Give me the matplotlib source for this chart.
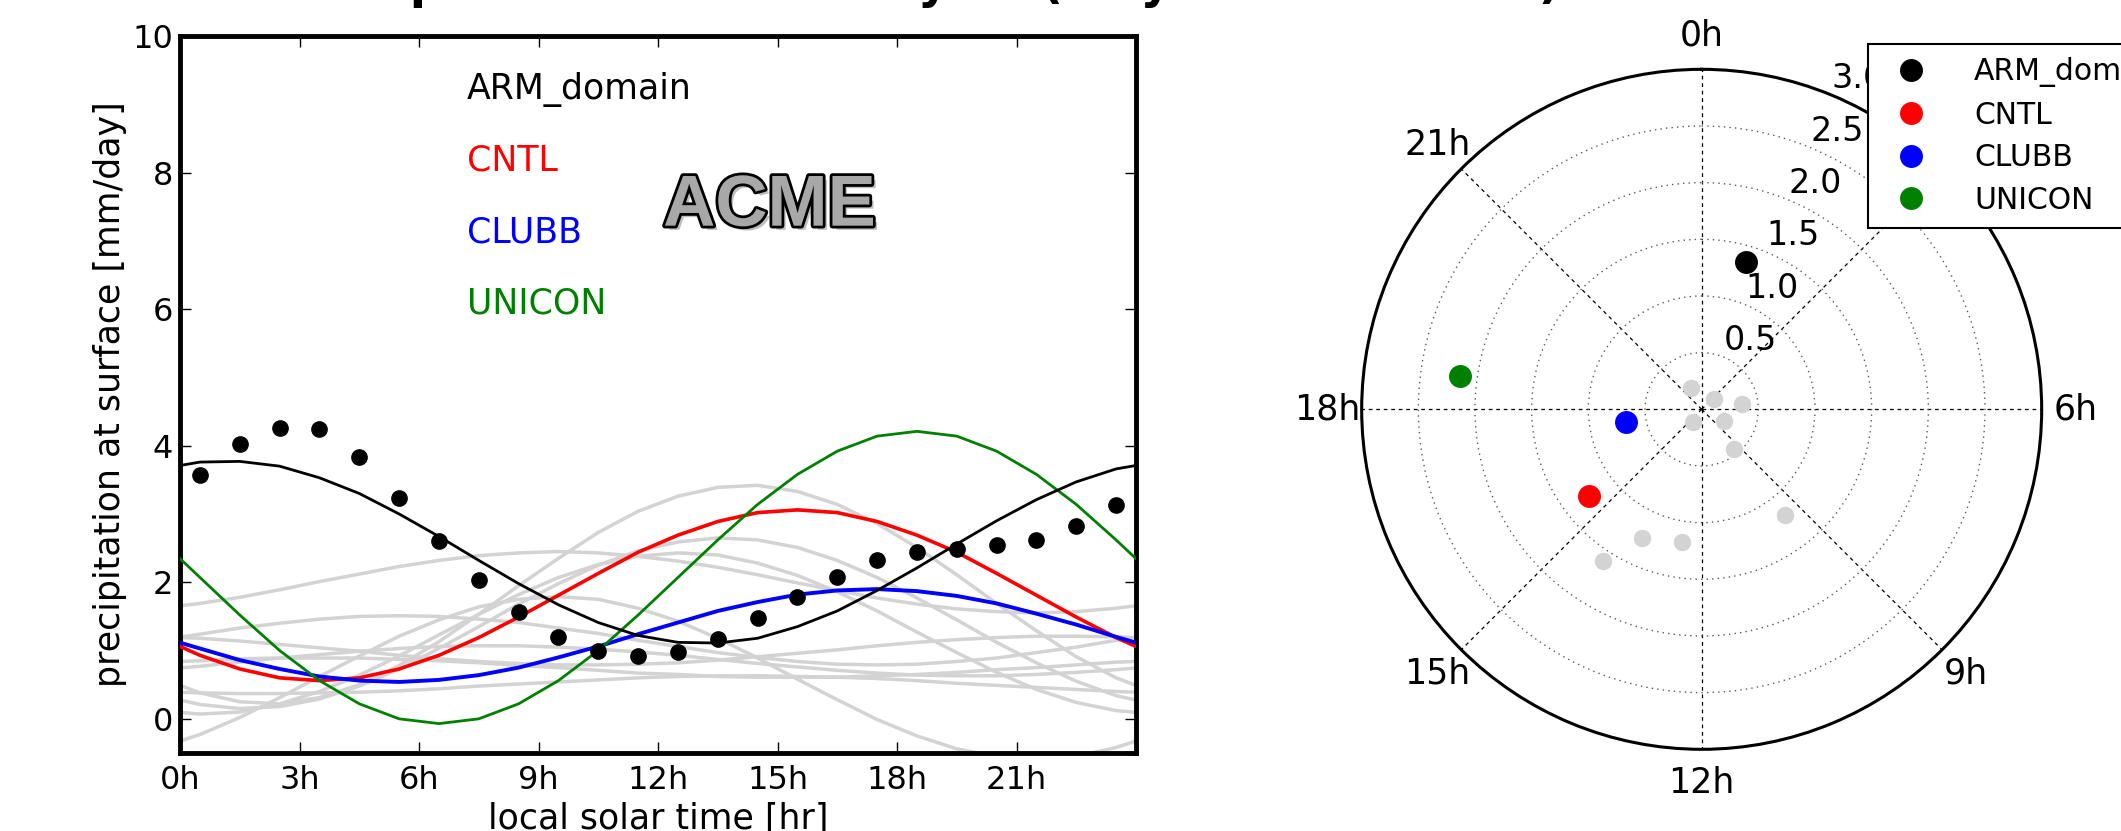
import numpy as np
import matplotlib
matplotlib.use("Agg")
import matplotlib.pyplot as plt
import matplotlib.patheffects as pe

plt.rcParams["font.family"] = ["DejaVu Sans"]

# half-hour bins of the local solar day
hours = np.arange(0.5, 24, 1.0)

# ARM observations (dots) and first-harmonic fits [mm/day]
arm_obs = [3.57, 4.02, 4.26, 4.24, 3.83, 3.24, 2.61, 2.03, 1.57, 1.20, 1.00, 0.92,
           0.98, 1.17, 1.47, 1.79, 2.07, 2.32, 2.44, 2.48, 2.55, 2.62, 2.82, 3.13]
arm_fit = [3.76, 3.77, 3.70, 3.53, 3.30, 3.00, 2.67, 2.32, 1.98, 1.67, 1.41, 1.22,
           1.12, 1.11, 1.18, 1.35, 1.58, 1.88, 2.21, 2.56, 2.90, 3.21, 3.47, 3.66]
cntl = [0.93, 0.73, 0.60, 0.56, 0.60, 0.73, 0.93, 1.19, 1.49, 1.81, 2.13, 2.44,
        2.69, 2.89, 3.02, 3.06, 3.02, 2.89, 2.69, 2.44, 2.13, 1.81, 1.49, 1.19]
clubb = [1.03, 0.86, 0.73, 0.62, 0.56, 0.54, 0.57, 0.64, 0.75, 0.90, 1.06, 1.24,
         1.41, 1.58, 1.71, 1.82, 1.88, 1.90, 1.87, 1.80, 1.69, 1.54, 1.38, 1.20]
unicon = [2.07, 1.52, 1.00, 0.56, 0.22, 0.00, -0.07, 0.00, 0.22, 0.56, 1.00, 1.52,
          2.07, 2.62, 3.14, 3.58, 3.92, 4.14, 4.21, 4.14, 3.92, 3.58, 3.14, 2.62]

# other models (grey)
gray_lines = [
    [0.38, 0.25, 0.22, 0.31, 0.50, 0.78, 1.13, 1.53, 1.95, 2.35, 2.73, 3.04,
     3.26, 3.39, 3.42, 3.33, 3.14, 2.86, 2.51, 2.11, 1.69, 1.29, 0.91, 0.60],
    [0.21, 0.15, 0.18, 0.29, 0.48, 0.73, 1.03, 1.35, 1.68, 1.98, 2.25, 2.46,
     2.59, 2.65, 2.62, 2.51, 2.32, 2.07, 1.77, 1.45, 1.12, 0.82, 0.55, 0.34],
    [0.07, 0.10, 0.22, 0.40, 0.64, 0.92, 1.23, 1.53, 1.82, 2.07, 2.26, 2.38,
     2.43, 2.40, 2.28, 2.10, 1.86, 1.58, 1.27, 0.97, 0.68, 0.43, 0.24, 0.12],
    [-0.23, 0.02, 0.31, 0.62, 0.92, 1.21, 1.45, 1.64, 1.75, 1.79, 1.75, 1.62,
     1.43, 1.18, 0.89, 0.58, 0.28, -0.01, -0.25, -0.44, -0.55, -0.59, -0.55, -0.42],
    [1.69, 1.78, 1.89, 2.01, 2.12, 2.23, 2.32, 2.39, 2.43, 2.45, 2.43, 2.38,
     2.31, 2.22, 2.11, 1.99, 1.88, 1.77, 1.68, 1.61, 1.57, 1.55, 1.57, 1.62],
    [1.18, 1.14, 1.09, 1.04, 0.99, 0.93, 0.88, 0.84, 0.81, 0.79, 0.79, 0.80,
     0.82, 0.86, 0.91, 0.96, 1.01, 1.07, 1.12, 1.16, 1.19, 1.21, 1.21, 1.20],
    [1.24, 1.33, 1.40, 1.46, 1.50, 1.51, 1.50, 1.46, 1.41, 1.33, 1.25, 1.15,
     1.06, 0.97, 0.90, 0.84, 0.80, 0.79, 0.80, 0.84, 0.89, 0.97, 1.05, 1.15],
    [0.85, 0.88, 0.89, 0.89, 0.89, 0.87, 0.85, 0.82, 0.78, 0.75, 0.71, 0.67,
     0.65, 0.62, 0.61, 0.61, 0.61, 0.63, 0.65, 0.68, 0.72, 0.75, 0.79, 0.83],
    [0.77, 0.83, 0.89, 0.94, 0.99, 1.03, 1.06, 1.07, 1.07, 1.05, 1.02, 0.98,
     0.93, 0.87, 0.81, 0.76, 0.71, 0.67, 0.64, 0.63, 0.63, 0.65, 0.68, 0.72],
    [0.38, 0.37, 0.37, 0.38, 0.39, 0.41, 0.44, 0.48, 0.51, 0.54, 0.57, 0.60,
     0.62, 0.63, 0.63, 0.62, 0.61, 0.59, 0.56, 0.52, 0.49, 0.46, 0.43, 0.40],
]

# amplitude [mm/day] and phase of maximum [hr]
gray_amp = [1.60, 1.25, 1.18, 1.19, 0.45, 0.21, 0.36, 0.14, 0.22, 0.13]
gray_phase = [14.2, 13.65, 12.57, 9.45, 9.41, 22.25, 5.53, 3.39, 7.84, 14.27]
names = ["ARM_domain", "CNTL", "CLUBB", "UNICON"]
colors = ["k", "r", "b", "g"]
amp = [1.36, 1.25, 0.68, 2.15]
phase = [1.12, 15.5, 17.37, 18.52]

xticks = [0, 3, 6, 9, 12, 15, 18, 21]
yticks = [0, 2, 4, 6, 8, 10]
rticks = [0.5, 1.0, 1.5, 2.0, 2.5, 3.0]
theta_hours = [0, 3, 6, 9, 12, 15, 18, 21]


def wrap(v):
    # close the periodic day on both sides of the axis
    return np.r_[hours[-1] - 24, hours, hours[0] + 24], np.r_[v[-1], v, v[0]]


fig = plt.figure(figsize=(21.21, 8.31), dpi=100)
ax = fig.add_axes([0.0849, 0.0939, 0.4507, 0.8628])

for g in gray_lines:
    ax.plot(*wrap(g), color="lightgray", lw=2.5, zorder=1)
ax.plot(*wrap(cntl), color="r", lw=2.6, zorder=3)
ax.plot(*wrap(clubb), color="b", lw=2.8, zorder=3)
ax.plot(*wrap(unicon), color="g", lw=2.0, zorder=3)
ax.plot(*wrap(arm_fit), color="k", lw=2.0, zorder=4)
ax.plot(hours, arm_obs, "o", color="k", ms=11, mec="k", zorder=5)

ax.set_xlim(0, 24)
ax.set_ylim(-0.5, 10)
ax.set_xticks(xticks)
ax.set_xticklabels([f"{h}h" for h in xticks])
ax.set_yticks(yticks)
ax.tick_params(direction="in", top=True, right=True, length=8, width=1,
               labelsize=23, pad=5)
ax.tick_params(axis="x", pad=9)
for s in ax.spines.values():
    s.set_linewidth(3.5)
ax.set_xlabel("local solar time [hr]", fontsize=25, labelpad=4)
ax.set_ylabel("precipitation at surface [mm/day]", fontsize=25)

for i, (n, c) in enumerate(zip(names, colors)):
    ax.text(7.2, 9.08 - 1.05 * i, n, color=c, fontsize=25, va="baseline")

ax.text(14.8, 7.5, "ACME", fontsize=52, weight="bold", color="#a8a8a8",
        family=["Liberation Sans Narrow", "Liberation Sans", "DejaVu Sans"],
        ha="center", va="center",
        path_effects=[pe.SimplePatchShadow(offset=(3, -3), shadow_rgbFace="0.5", alpha=0.5),
                      pe.withStroke(linewidth=4, foreground="k")])

fig.text(324 / 2121, 1.002, "Amplitude of diurnal cycle (May 2000 to 2010)",
         fontsize=34, weight="bold", ha="left", va="baseline")

# polar: amplitude vs. time of maximum
ax2 = fig.add_axes([0.6420, 0.0983, 0.3206, 0.8183], projection="polar")
ax2.set_theta_zero_location("N")
ax2.set_theta_direction(-1)
ax2.set_ylim(0, 3.0)
ax2.set_xticks(np.deg2rad(np.array(theta_hours) * 15))
ax2.set_xticklabels([])
ax2.set_yticks(rticks)
ax2.set_yticklabels([])
ax2.xaxis.grid(True, ls=(0, (3, 3)), color="k", lw=0.9)
ax2.yaxis.grid(True, ls=(0, (1, 3)), color="0.35", lw=1.0)
ax2.spines["polar"].set_linewidth(2.2)

ax2.plot(np.array(gray_phase) / 24 * 2 * np.pi, gray_amp, "o", color="lightgray",
         mec="lightgray", ms=11.5, zorder=3, clip_on=False)
for n, c, a, p in zip(names, colors, amp, phase):
    ax2.plot([p / 24 * 2 * np.pi], [a], "o", color=c, mec=c, ms=15.5, label=n,
             zorder=4, clip_on=False)

for h in theta_hours:
    ax2.text(np.deg2rad(h * 15), 3.3, f"{h}h", fontsize=25, ha="center",
             va="center", clip_on=False)
for r in rticks:
    ax2.text(np.deg2rad(22.5), r, f"{r:.1f}", fontsize=24, ha="left",
             va="bottom", clip_on=False, zorder=2)

leg = ax2.legend(loc="upper left", bbox_to_anchor=(1868 / 2121, 1 - 44 / 831),
                 bbox_transform=fig.transFigure, borderaxespad=0, fontsize=21.5,
                 numpoints=1, fancybox=False, framealpha=1, edgecolor="k",
                 handletextpad=1.1, labelspacing=0.45, borderpad=0.45)
leg.get_frame().set_linewidth(1.5)
leg.set_zorder(10)

fig.savefig("out.png", dpi=100)
